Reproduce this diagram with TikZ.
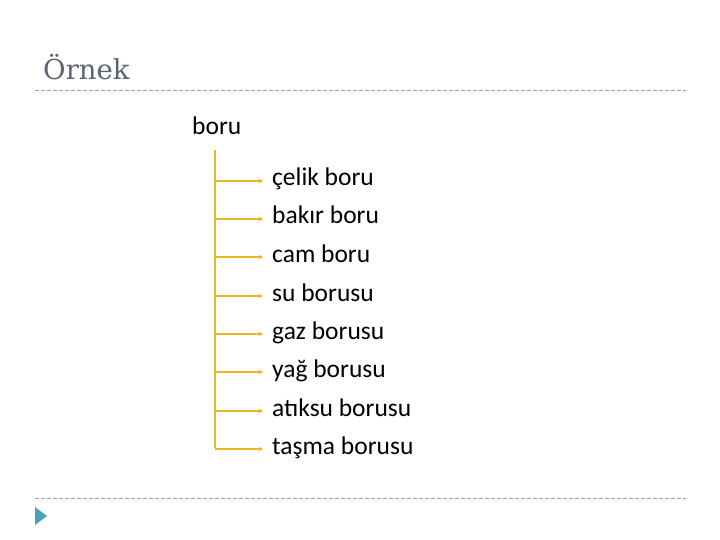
\documentclass[tikz,border=0pt]{standalone}
\usepackage{fontspec}
\setmainfont{Carlito}
\newfontfamily\titlefont{DejaVu Serif}
\usetikzlibrary{arrows.meta}
\definecolor{gold}{RGB}{232,183,40}
\definecolor{dashc}{RGB}{140,174,184}
\definecolor{titlec}{RGB}{92,100,114}
\definecolor{tri}{RGB}{75,160,190}
\tikzset{
  item/.style={anchor=base west, inner sep=0pt, font=\fontsize{25.5}{30}\selectfont},
  branch/.style={draw=gold, line width=2pt, -{Stealth[length=4.5pt,width=4.5pt]}},
  rule/.style={draw=dashc, line width=1pt, dash pattern=on 4pt off 2pt}
}
\begin{document}
\begin{tikzpicture}[x=1pt,y=-1pt]
\useasboundingbox (0,0) rectangle (720,540);
\node[anchor=base west, inner sep=0pt, text=titlec, font=\titlefont\fontsize{27.5}{32}\selectfont] (title) at (43,80) {Örnek};
\coordinate (r1a) at (35,90.5);
\coordinate (r1b) at (686,90.5);
\draw[rule] (r1a) -- (r1b);
\coordinate (r2a) at (35,498.5);
\coordinate (r2b) at (686,498.5);
\draw[rule] (r2a) -- (r2b);
\fill[tri] (35,507) -- (47,516) -- (35,525) -- cycle;
\node[item] (root) at (192,135) {boru};
\coordinate (top) at (215,150);
\foreach \n/\t/\y in {a/çelik boru/181,b/bakır boru/219,c/cam boru/257,d/su borusu/296,e/gaz borusu/334,f/yağ borusu/372,g/atıksu borusu/411,h/taşma borusu/449}{
  \node[item] (\n) at (272,\y+5) {\t};
  \coordinate (\n w) at (263,\y);
  \coordinate (\n s) at (215,\y);
  \draw[branch] (\n s) -- (\n w);
}
\draw[draw=gold, line width=2pt] (top) -- ([yshift=1pt]hs);
\end{tikzpicture}
\end{document}
